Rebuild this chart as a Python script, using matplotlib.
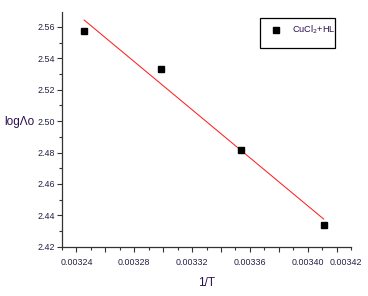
import matplotlib
matplotlib.use("Agg")
import matplotlib.pyplot as plt
from matplotlib.ticker import MultipleLocator, FixedLocator, FixedFormatter
from matplotlib.patches import Rectangle
import numpy as np

plt.rcParams['font.family'] = ['Liberation Sans', 'DejaVu Sans']

# data
inv_T = [0.0032453, 0.0032985, 0.0033537, 0.0034111]
log_lambda = [2.5573, 2.5332, 2.4816, 2.4338]
fit_x = [0.0032453, 0.0034111]
fit_y = [2.5644, 2.4376]
series_label = "CuCl$_2$+HL"
xtick_vals = [0.00324, 0.00328, 0.00332, 0.00336, 0.00340, 0.00342]
xtick_text = ["0.00324", "0.00328", "0.00332", "0.00336", "0.00340", "0.00342"]
ytick_vals = [2.42, 2.44, 2.46, 2.48, 2.50, 2.52, 2.54, 2.56]
ytick_text = ["2.42", "2.44", "2.46", "2.48", "2.50", "2.52", "2.54", "2.56"]

fig = plt.figure(figsize=(3.68, 2.96), dpi=100)
ax = fig.add_axes([62/368, 1-246.7/296, (351-62)/368, (246.7-12)/296])

ax.plot(fit_x, fit_y, color='#ff2020', lw=0.75, zorder=2)
ax.plot(inv_T, log_lambda, ls='none', marker='s', ms=4.3, color='black',
        label=series_label, zorder=3)

ax.set_xlim(0.00323, 0.00343)
ax.set_ylim(2.42, 2.5695)

for s in ['top', 'right']:
    ax.spines[s].set_visible(False)
for s in ['left', 'bottom']:
    ax.spines[s].set_color('#333333')
    ax.spines[s].set_linewidth(0.9)

tick_col = '#222244'
major_x = np.round(np.arange(0.00324, 0.003431, 0.00002), 6)
ax.xaxis.set_major_locator(FixedLocator(major_x))
ax.xaxis.set_minor_locator(MultipleLocator(0.00001))
labels = []
for v in major_x:
    m = [t for xv, t in zip(xtick_vals[:-1], xtick_text[:-1]) if abs(xv - v) < 1e-9]
    labels.append(m[0] if m else "")
ax.xaxis.set_major_formatter(FixedFormatter(labels))
ax.yaxis.set_major_locator(FixedLocator(ytick_vals))
ax.yaxis.set_major_formatter(FixedFormatter(ytick_text))
ax.yaxis.set_minor_locator(MultipleLocator(0.01))

ax.tick_params(axis='both', which='major', length=3.5, width=0.8, color='#333333',
               labelsize=6.4, labelcolor=tick_col, direction='out')
ax.tick_params(axis='both', which='minor', length=2.0, width=0.8, color='#333333',
               direction='out')
ax.tick_params(axis='x', which='major', pad=4.5)
ax.tick_params(axis='y', which='major', pad=1.5)

# last tick label is drawn shifted right of its tick, as in the reference
ax.annotate(xtick_text[-1], xy=(xtick_vals[-1], 0),
            xycoords=ax.get_xaxis_transform(), xytext=(7, -8),
            textcoords='offset points', ha='center', va='top',
            fontsize=6.4, color=tick_col, annotation_clip=False)

ax.set_xlabel("1/T", fontsize=8.5, color='#2a1050', labelpad=7)
fig.text(4/368, 1-122/296, "logΛo", fontsize=8.5, color='#2a1050',
         ha='left', va='center')

# legend frame and entry
fig.patches.append(Rectangle((260/368, 1-48/296), 75/368, 30/296,
                             transform=fig.transFigure, fill=False,
                             edgecolor='black', linewidth=0.9))
leg = ax.legend(loc='center left', bbox_to_anchor=(272/368, 1-30/296),
                bbox_transform=fig.transFigure, frameon=False,
                fontsize=6.6, handlelength=0.85, handletextpad=1.3,
                borderpad=0, borderaxespad=0, markerscale=1.0)
for t in leg.get_texts():
    t.set_color('#2a1050')

fig.savefig("out.png", dpi=100)
